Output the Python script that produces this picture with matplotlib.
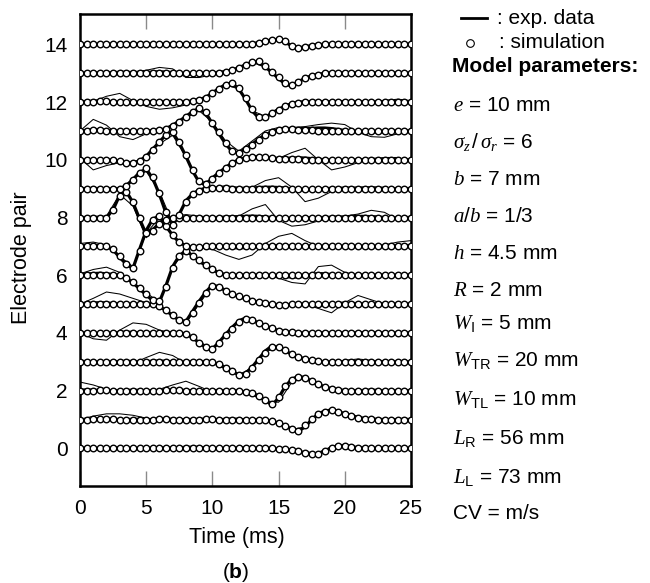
import matplotlib
matplotlib.use("Agg")
import matplotlib.pyplot as plt
from matplotlib.lines import Line2D
import numpy as np

plt.rcParams["font.family"] = ["Liberation Sans", "DejaVu Sans"]
plt.rcParams["mathtext.fontset"] = "custom"
plt.rcParams["mathtext.rm"] = "Liberation Sans"
plt.rcParams["mathtext.it"] = "Liberation Serif:italic"
plt.rcParams["mathtext.bf"] = "Liberation Sans:bold"
plt.rcParams["mathtext.sf"] = "Liberation Sans"

# sampling grids (ms)
sim_time = np.arange(0, 25.01, 0.5)
trial_time = np.arange(0, 25.01, 1.0)

electrode_pairs = list(range(15))

# simulated signal (offset from each pair's baseline), 0.5 ms steps
sim_offsets = [
    [0, 0, 0, 0, 0.01, 0.01, 0, 0, 0, 0, 0.01, 0.01, 0.01, 0, 0, 0, 0.01, 0.02, 0.02, 0.01,
     0, 0, 0.01, 0.01, 0.01, 0, 0, 0, 0, 0, -0.01, -0.02, -0.05, -0.1, -0.15, -0.2, -0.19, -0.1, 0.02, 0.08,
     0.08, 0.05, 0.03, 0.02, 0, 0, 0, 0, 0, 0, 0],
    [0, 0, 0.01, 0.02, 0.02, 0.01, 0, 0, 0, 0, 0, 0, 0.01, 0.01, 0, 0, 0, 0, 0, 0.01,
     0.01, 0, 0, 0, 0, 0, 0, 0, -0.02, -0.05, -0.12, -0.22, -0.33, -0.38, -0.2, 0.02, 0.2, 0.28, 0.32, 0.28,
     0.18, 0.12, 0.07, 0.03, 0.01, 0, 0, 0, 0, 0, 0],
    [0, 0, 0, 0.01, 0.01, 0, 0, 0, 0, 0, 0, 0, 0, 0.01, 0.01, 0.01, 0, 0, 0, 0,
     0, 0, 0, 0, 0, -0.03, -0.08, -0.17, -0.32, -0.45, -0.2, 0.15, 0.37, 0.46, 0.44, 0.33, 0.22, 0.12, 0.06, 0.02,
     0, 0, 0, 0, 0, 0, 0, 0, 0, 0, 0],
    [0, 0, 0, 0, 0, 0.01, 0.01, 0, 0, 0, 0, 0, 0, 0, 0, 0, 0, 0, 0, 0,
     -0.02, -0.08, -0.2, -0.33, -0.45, -0.42, -0.22, 0.05, 0.32, 0.5, 0.5, 0.4, 0.28, 0.18, 0.1, 0.05, 0.02, 0, 0, 0,
     0, 0, 0, 0, 0, 0, 0, 0, 0, 0, 0],
    [0, 0, 0, 0, 0, 0, 0, 0.01, 0.01, 0, 0, 0, 0, 0, 0, 0, -0.03, -0.15, -0.33, -0.48,
     -0.54, -0.35, -0.08, 0.15, 0.38, 0.5, 0.45, 0.34, 0.25, 0.16, 0.08, 0.04, 0.02, 0, 0, 0, 0, 0, 0, 0,
     0, 0, 0, 0, 0, 0, 0, 0, 0, 0, 0],
    [0, 0, 0, 0, 0, 0, 0, 0, 0, 0, 0, 0, -0.08, -0.2, -0.38, -0.55, -0.62, -0.3, 0.05, 0.38,
     0.64, 0.6, 0.47, 0.36, 0.27, 0.2, 0.12, 0.07, 0.03, 0, -0.02, -0.02, 0, 0, 0, 0, 0, 0, 0, 0,
     0, 0, 0, 0, 0, 0, 0, 0, 0, 0, 0],
    [0, 0, 0, 0, 0, 0, 0, -0.1, -0.25, -0.45, -0.65, -0.85, -0.9, -0.4, 0.25, 0.65, 0.83, 0.68, 0.52, 0.36,
     0.2, 0.08, 0.02, 0, 0, 0, 0, 0, 0, 0, 0, 0, 0, 0, 0, 0, 0, 0, 0, 0,
     0, 0, 0, 0, 0, 0, 0, 0, 0, 0, 0],
    [0, 0, 0, 0, 0, -0.1, -0.35, -0.6, -0.75, -0.15, 0.5, 0.92, 1.05, 0.72, 0.4, 0.15, 0.03, -0.03, -0.03, 0,
     0, 0, 0, 0, 0, 0, 0, 0, 0, 0, 0, 0, 0, 0, 0, 0, 0, 0, 0, 0,
     0, 0, 0, 0, 0, 0, 0, 0, 0, 0, 0],
    [0, 0, 0, 0, 0, 0.25, 0.75, 0.9, 0.55, 0, -0.55, -0.45, -0.22, -0.08, 0, 0, 0, 0, 0, 0,
     0, 0, 0, 0, 0, 0, 0, 0, 0, 0, 0, 0, 0, 0, 0, 0, 0, 0, 0, 0,
     0, 0, 0, 0, 0, 0, 0, 0, 0, 0, 0],
    [0, 0, 0, 0, 0, 0, 0, 0.08, 0.3, 0.55, 0.7, 0.4, -0.15, -0.8, -1.25, -0.9, -0.45, -0.2, -0.07, 0,
     0.02, 0.02, 0.01, 0, 0, 0, 0, 0, 0, 0, 0, 0, 0, 0, 0, 0, 0, 0, 0, 0,
     0, 0, 0, 0, 0, 0, 0, 0, 0, 0, 0],
    [0, 0, 0, 0, 0, 0, -0.05, -0.1, -0.1, -0.05, 0.1, 0.35, 0.6, 0.85, 0.95, 0.6, 0.15, -0.35, -0.75, -0.85,
     -0.65, -0.46, -0.3, -0.12, -0.02, 0.06, 0.1, 0.1, 0.08, 0.05, 0.03, 0.02, 0.02, 0.01, 0, 0, 0, 0, 0, 0,
     0, 0, 0, 0, 0, 0, 0, 0, 0, 0, 0],
    [0, 0.01, 0.02, 0.02, 0.01, 0, 0, 0, -0.01, -0.01, 0, 0, 0.02, 0.07, 0.18, 0.32, 0.48, 0.66, 0.78, 0.65,
     0.28, -0.05, -0.42, -0.7, -0.75, -0.62, -0.48, -0.3, -0.15, -0.05, 0.03, 0.05, 0.05, 0.04, 0.03, 0.02, 0.01, 0, 0, 0,
     0, 0, 0, 0, 0, 0, 0, 0, 0, 0, 0],
    [0, 0, 0.01, 0.02, 0.02, 0.01, 0, -0.01, -0.01, 0, 0, 0.01, 0.01, 0, 0, 0, 0, 0.03, 0.08, 0.14,
     0.3, 0.45, 0.6, 0.66, 0.48, 0.15, -0.25, -0.52, -0.52, -0.38, -0.26, -0.15, -0.06, -0.02, 0, 0, 0, 0, 0, 0,
     0, 0, 0, 0, 0, 0, 0, 0, 0, 0, 0],
    [0, 0, 0, 0, 0, 0, 0, 0, 0, 0, 0, 0, 0, 0, 0, 0, 0, 0, 0, 0,
     0, 0.02, 0.05, 0.1, 0.18, 0.28, 0.38, 0.41, 0.25, 0.05, -0.13, -0.33, -0.42, -0.3, -0.18, -0.1, -0.05, -0.01, 0, 0,
     0, 0, 0, 0, 0, 0, 0, 0, 0, 0, 0],
    [0, 0, 0, 0, 0, 0, 0, 0, 0, 0, 0, 0, 0, 0, 0, 0, 0, 0, 0, 0,
     0, 0, 0, 0, 0, 0, 0.02, 0.05, 0.1, 0.15, 0.17, 0.1, -0.05, -0.12, -0.1, -0.05, -0.02, 0, 0, 0,
     0, 0, 0, 0, 0, 0, 0, 0, 0, 0, 0],
]

# averaged experimental recording (thick line), 0.5 ms steps
exp_mean_offsets = [
    [0, 0.01, 0, -0.01, 0, 0.01, 0.02, 0.01, 0, 0, 0, 0.01, 0.02, 0.02, 0.01, 0, 0, 0.01, 0.02, 0.02,
     0.01, 0, 0, 0.01, 0.02, 0.02, 0.01, 0, 0, -0.01, -0.02, -0.03, -0.06, -0.1, -0.15, -0.19, -0.17, -0.08, 0.03, 0.1,
     0.1, 0.06, 0.03, 0.01, 0, 0, 0.01, 0.01, 0, 0, 0],
    [0, 0.01, 0.02, 0.03, 0.02, 0.01, 0, 0, 0.01, 0.01, 0, 0, 0.01, 0.02, 0.01, 0, -0.01, 0, 0.01, 0.02,
     0.01, 0, 0, 0.01, 0, 0, -0.01, -0.01, -0.03, -0.06, -0.12, -0.22, -0.33, -0.4, -0.25, 0.0, 0.2, 0.3, 0.33, 0.28,
     0.2, 0.14, 0.08, 0.04, 0.02, 0.01, 0, 0, 0, 0.01, 0],
    [0.02, 0.03, 0.02, 0.01, 0, 0, 0, 0.01, 0.02, 0.01, 0, -0.01, 0, 0.02, 0.03, 0.02, 0.01, 0, 0, 0,
     0, 0.01, 0, -0.01, -0.01, -0.04, -0.09, -0.18, -0.33, -0.5, -0.25, 0.15, 0.4, 0.5, 0.45, 0.33, 0.22, 0.13, 0.07, 0.03,
     0.01, 0, 0, 0.01, 0.02, 0.01, 0, 0, -0.01, 0, 0],
    [0.02, 0.01, 0, -0.01, -0.01, 0, 0.01, 0.02, 0.01, 0, 0.01, 0.02, 0.03, 0.02, 0, -0.01, -0.01, 0, 0, 0,
     -0.02, -0.08, -0.2, -0.33, -0.45, -0.4, -0.18, 0.1, 0.38, 0.55, 0.5, 0.38, 0.26, 0.17, 0.1, 0.05, 0.02, 0, -0.01, 0,
     0.01, 0.02, 0.01, 0, 0, 0.01, 0.01, 0, 0, 0, 0],
    [0.01, 0, -0.02, -0.03, -0.02, 0, 0.02, 0.03, 0.02, 0, 0, 0, 0.01, 0.02, 0.01, 0, -0.03, -0.16, -0.34, -0.5,
     -0.55, -0.32, -0.05, 0.2, 0.42, 0.52, 0.45, 0.34, 0.25, 0.16, 0.08, 0.04, 0.02, 0, -0.01, 0, 0, 0.01, 0, 0,
     0, 0, 0.01, 0.01, 0, 0, 0, 0, 0, 0, 0],
    [0.01, 0.02, 0.04, 0.05, 0.04, 0.02, 0.01, 0, 0, 0, 0.01, 0, -0.08, -0.22, -0.4, -0.56, -0.6, -0.25, 0.1, 0.42,
     0.66, 0.6, 0.47, 0.35, 0.26, 0.19, 0.12, 0.06, 0.03, 0, -0.02, -0.02, -0.01, 0, 0, -0.02, -0.04, -0.03, 0, 0.02,
     0.04, 0.03, 0.01, 0, 0, 0, 0, 0, 0, 0, 0],
    [0.02, 0.04, 0.06, 0.07, 0.05, 0.03, 0, -0.1, -0.26, -0.47, -0.68, -0.88, -0.92, -0.35, 0.3, 0.68, 0.85, 0.68, 0.5, 0.35,
     0.2, 0.08, 0.02, 0, -0.01, 0, 0, 0, 0, -0.02, -0.03, -0.05, -0.06, -0.06, -0.03, 0.03, 0.06, 0.05, 0.02, 0,
     0, 0, 0, 0, 0, 0, 0, 0, 0, 0, 0],
    [0.02, 0.03, 0.04, 0.03, 0, -0.12, -0.38, -0.62, -0.76, -0.1, 0.55, 0.95, 1.05, 0.7, 0.38, 0.14, 0.02, -0.03, -0.04, -0.02,
     0, 0, -0.02, -0.04, -0.05, -0.04, -0.02, 0, 0.01, 0.02, 0.03, 0.02, 0, 0, 0, 0, 0, 0, 0, 0,
     0, 0, 0, 0, 0, 0, 0.01, 0.02, 0.03, 0.03, 0.03],
    [0, 0, 0.01, 0.01, 0, 0.27, 0.78, 0.9, 0.52, -0.05, -0.58, -0.42, -0.2, -0.06, 0, 0.01, 0.01, 0, 0, 0,
     0, 0, 0.01, 0.02, 0.03, 0.04, 0.05, 0.04, 0.02, 0, -0.02, -0.03, -0.03, -0.02, -0.01, 0, 0, 0, 0.01, 0.02,
     0.02, 0.03, 0.04, 0.04, 0.03, 0.02, 0, -0.01, -0.01, 0, 0],
    [0, 0, 0.01, 0, -0.01, 0, 0, 0.1, 0.32, 0.56, 0.68, 0.35, -0.2, -0.85, -1.28, -0.88, -0.42, -0.18, -0.05, 0.02,
     0.04, 0.03, 0.02, 0.01, 0, 0, 0.02, 0.04, 0.05, 0.05, 0.04, 0.02, -0.01, -0.03, -0.04, -0.03, -0.01, 0, 0.01, 0.01,
     0.02, 0.02, 0.02, 0.01, 0, 0, 0, 0, 0, 0, 0],
    [0, -0.02, -0.04, -0.03, -0.01, -0.02, -0.06, -0.1, -0.1, -0.04, 0.12, 0.37, 0.62, 0.87, 0.95, 0.58, 0.12, -0.38, -0.78, -0.86,
     -0.63, -0.44, -0.27, -0.1, 0, 0.07, 0.11, 0.11, 0.09, 0.06, 0.05, 0.05, 0.06, 0.07, 0.06, 0.04, 0.02, 0, -0.02, -0.03,
     -0.03, -0.02, 0, 0.01, 0.02, 0.02, 0.02, 0.01, 0, 0, 0],
    [0, 0.02, 0.04, 0.04, 0.02, 0, -0.02, -0.03, -0.03, -0.02, 0, 0.01, 0.03, 0.08, 0.2, 0.34, 0.5, 0.67, 0.78, 0.62,
     0.25, -0.1, -0.45, -0.72, -0.76, -0.62, -0.46, -0.28, -0.13, -0.03, 0.04, 0.07, 0.08, 0.08, 0.08, 0.09, 0.1, 0.1, 0.08, 0.05,
     0.01, -0.02, -0.04, -0.05, -0.05, -0.04, -0.02, -0.01, 0, 0, 0],
    [0.01, 0.02, 0.03, 0.04, 0.03, 0.01, -0.01, -0.02, -0.02, 0, 0.01, 0.02, 0.01, 0, -0.01, 0, 0.01, 0.04, 0.09, 0.16,
     0.32, 0.47, 0.61, 0.65, 0.45, 0.1, -0.3, -0.55, -0.53, -0.38, -0.25, -0.14, -0.05, 0, 0.01, 0.02, 0.02, 0.01, 0, 0,
     0, 0.01, 0.01, 0, 0, 0.01, 0.02, 0.03, 0.03, 0.02, 0.01],
    [0, 0, 0.01, 0.01, 0.01, 0.02, 0.03, 0.03, 0.02, 0.01, 0.02, 0.04, 0.05, 0.04, 0.02, 0, -0.02, -0.02, -0.01, 0,
     0.01, 0.03, 0.06, 0.11, 0.19, 0.29, 0.38, 0.4, 0.22, 0.02, -0.18, -0.38, -0.44, -0.3, -0.17, -0.09, -0.04, 0, 0.01, 0.01,
     0.01, 0.01, 0, 0, 0, 0, 0.01, 0.01, 0, 0, 0],
    [0, 0, 0, 0, 0, 0, 0, 0, 0, 0, 0, 0, 0, 0, 0, 0, 0, 0, 0, 0,
     0, 0, 0, 0, 0, 0, 0.02, 0.06, 0.11, 0.15, 0.16, 0.08, -0.06, -0.12, -0.09, -0.04, -0.01, 0, 0, 0,
     0, 0, 0, 0, 0, 0, 0, 0, 0, 0, 0],
]

# single experimental trial (thin line), 1 ms steps
exp_trial_offsets = [
    [0, 0, 0.01, 0.02, 0.03, 0.03, 0.02, 0.04, 0.08, 0.08, 0, -0.02, 0, 0.03, 0.05, 0, -0.05, -0.12, -0.15, 0.05, 0.1, 0.05, 0, 0.01, 0.01, 0],
    [0, 0.12, 0.2, 0.2, 0.15, 0.05, 0, -0.05, 0.05, 0.02, 0, 0.05, 0.05, 0, -0.05, -0.1, -0.35, -0.25, 0.15, 0.3, 0.2, 0.05, 0, 0.02, 0.03, 0],
    [0.3, 0.2, 0.05, -0.05, -0.05, 0, 0.05, 0.2, 0.33, 0.15, -0.05, -0.1, 0, -0.15, -0.35, -0.4, 0.3, 0.45, 0.2, 0.05, 0, 0.02, 0.05, 0.02, 0, 0],
    [0.02, -0.08, -0.05, -0.1, -0.05, 0.15, 0.33, 0.22, -0.05, -0.1, -0.05, -0.25, -0.45, -0.2, 0.35, 0.5, 0.25, 0.1, 0, -0.05, 0.05, 0.1, 0.05, -0.05, 0.02, 0],
    [0, -0.2, -0.25, 0.1, 0.35, 0.3, 0.1, 0, -0.05, -0.3, -0.55, -0.05, 0.4, 0.45, 0.25, 0.08, 0.02, -0.05, -0.05, 0, 0, 0, 0.05, 0, 0, 0],
    [0, 0.2, 0.42, 0.35, 0.2, 0.05, -0.1, -0.4, -0.65, 0, 0.65, 0.45, 0.25, 0.1, 0.02, -0.05, -0.05, 0, -0.15, -0.3, 0.05, 0.3, 0.15, 0, 0.02, 0],
    [0.05, 0.2, 0.28, 0.1, -0.3, -0.6, -0.95, 0.3, 0.85, 0.45, 0.15, 0, -0.05, 0, 0, -0.1, -0.25, -0.3, 0.3, 0.35, 0.1, 0, -0.03, 0, 0, 0],
    [0.1, 0.15, 0.05, -0.35, -0.7, 0.45, 1.0, 0.35, 0, -0.05, -0.1, -0.3, -0.45, -0.3, 0.1, 0.35, 0.45, 0.2, 0, -0.05, 0, 0, 0.02, 0.05, 0.15, 0.2],
    [0.02, 0, 0.05, 0.8, 0.4, -0.7, -0.2, 0.05, 0.1, 0.05, 0, 0.05, 0.05, 0.3, 0.45, -0.1, -0.3, -0.25, -0.12, -0.02, 0.05, 0.12, 0.25, 0.18, -0.08, 0],
    [0, 0.05, 0, -0.05, 0.35, 0.6, -0.1, -1.2, -0.45, -0.05, 0.05, 0.1, 0.05, 0.05, 0.28, 0.38, 0.05, -0.45, -0.33, -0.1, 0, 0.05, 0.07, 0.05, 0.02, 0],
    [0.05, -0.35, -0.2, -0.1, -0.15, 0.15, 0.55, 0.85, 0.1, -0.8, -0.7, -0.3, -0.05, 0.05, 0.05, 0.05, 0.25, 0.4, 0, -0.35, -0.25, -0.1, 0.02, 0.08, 0.08, -0.05],
    [0, 0.4, 0.2, -0.2, -0.3, -0.1, 0.05, 0.15, 0.45, 0.7, 0.3, -0.35, -0.7, -0.35, 0, 0.12, 0.12, 0.15, 0.22, 0.27, 0.22, -0.05, -0.2, -0.22, -0.1, 0],
    [0, 0.02, 0.2, 0.3, 0.05, -0.15, -0.25, -0.2, -0.1, 0.05, 0.3, 0.6, 0.45, -0.3, -0.5, -0.25, -0.05, 0, 0.02, 0.05, 0.05, 0, -0.02, 0.05, 0.1, 0.05],
    [0, 0, 0, 0.02, 0.05, 0.1, 0.2, 0.15, -0.15, -0.15, -0.05, 0.05, 0.18, 0.38, 0.2, -0.2, -0.45, -0.2, -0.05, 0, 0.02, 0.02, 0, 0, 0.02, 0],
    [0.02, 0.01, 0, 0, 0.01, 0.02, 0.01, 0, 0, 0.01, 0.02, 0.01, 0, 0.02, 0.1, 0.15, -0.05, -0.1, -0.02, 0, 0, 0, 0, 0.01, 0, 0],
]

param_lines = [
    r"$e$ = 10 mm",
    r"$\sigma_z\,/\,\sigma_r$ = 6",
    r"$b$ = 7 mm",
    r"$a/b$ = 1/3",
    r"$h$ = 4.5 mm",
    r"$R$ = 2 mm",
    r"$W_\mathrm{I}$ = 5 mm",
    r"$W_\mathrm{TR}$ = 20 mm",
    r"$W_\mathrm{TL}$ = 10 mm",
    r"$L_\mathrm{R}$ = 56 mm",
    r"$L_\mathrm{L}$ = 73 mm",
    "CV = m/s",
]
# vertical centres of the parameter lines, in pixels from the top
param_y_px = [104, 141, 178, 215, 252, 289, 322, 359, 398, 437, 476, 512]

W, H = 650, 583


def fx(px):
    return px / W


def fy(py):
    return 1 - py / H


fig = plt.figure(figsize=(W / 100, H / 100), dpi=100)
ax = fig.add_axes([fx(80), fy(486), fx(411) - fx(80), fy(14) - fy(486)])

for pair, sim, mean, trial in zip(electrode_pairs, sim_offsets,
                                  exp_mean_offsets, exp_trial_offsets):
    ax.plot(trial_time, pair + np.asarray(trial), color="black", lw=0.75, zorder=2)
    ax.plot(sim_time, pair + np.asarray(mean), color="black", lw=2.3, zorder=3)
    ax.plot(sim_time, pair + np.asarray(sim), ls="none", marker="o", ms=4.7,
            mfc="white", mec="black", mew=1.0, zorder=4)

ax.set_xlim(0, 25)
ax.set_ylim(-1.3, 15.05)
ax.set_xticks([0, 5, 10, 15, 20, 25])
ax.set_yticks(range(0, 15, 2))
ax.tick_params(axis="x", direction="in", length=11, width=1, color="#8a8a8a",
               top=True, labelsize=15, pad=9)
ax.tick_params(axis="y", length=0, labelsize=15, pad=9)
for side in ax.spines.values():
    side.set_linewidth(1.8)

fig.text(fx(237), fy(537), "Time (ms)", ha="center", va="center", fontsize=15.5)
fig.text(fx(22), fy(258), "Electrode pair", ha="center", va="center",
         rotation=90, fontsize=15.5)
fig.text(fx(236), fy(572), r"($\mathbf{b}$)", ha="center", va="center", fontsize=15)

# legend block on the right
fig.add_artist(Line2D([fx(461), fx(487)], [fy(18), fy(18)], color="black", lw=2.0,
                      transform=fig.transFigure))
fig.text(fx(497), fy(18), ": exp. data", ha="left", va="center", fontsize=15)
fig.add_artist(Line2D([fx(470)], [fy(43)], ls="none", marker="o", ms=5.5,
                      mfc="white", mec="black", mew=0.8, transform=fig.transFigure))
fig.text(fx(499), fy(43), ": simulation", ha="left", va="center", fontsize=15)
fig.text(fx(452), fy(67), "Model parameters:", ha="left", va="center",
         fontsize=15, fontweight="bold")

for line, py in zip(param_lines, param_y_px):
    fig.text(fx(453), fy(py + 7), line, ha="left", va="baseline", fontsize=15)

fig.savefig("out.png", dpi=100)
